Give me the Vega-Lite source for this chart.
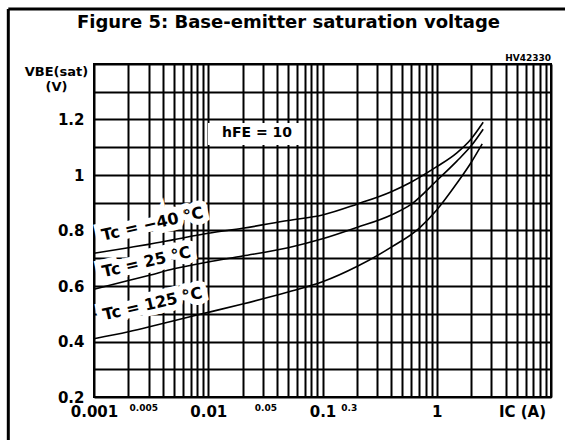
{
  "$schema": "https://vega.github.io/schema/vega-lite/v6.json",
  "width": 457,
  "height": 333,
  "autosize": {"type": "none"},
  "padding": {"left": 94, "top": 64, "right": 14, "bottom": 43},
  "background": "white",
  "title": {
    "text": "Figure 5: Base-emitter saturation voltage",
    "font": "DejaVu Sans",
    "fontSize": 18,
    "fontWeight": "bold",
    "color": "black",
    "anchor": "middle",
    "frame": "group",
    "offset": -38,
    "baseline": "alphabetic",
    "dx": -34
  },
  "config": {
    "view": {"stroke": "black", "strokeWidth": 2},
    "font": "DejaVu Sans"
  },
  "resolve": {"axis": {"x": "independent", "y": "independent"}},
  "datasets": {
    "curves": [
      {"Ic": 0.001, "V": 0.718, "Tc": "-40"},
      {"Ic": 0.002, "V": 0.738, "Tc": "-40"},
      {"Ic": 0.003, "V": 0.75, "Tc": "-40"},
      {"Ic": 0.005, "V": 0.767, "Tc": "-40"},
      {"Ic": 0.01, "V": 0.79, "Tc": "-40"},
      {"Ic": 0.02, "V": 0.808, "Tc": "-40"},
      {"Ic": 0.05, "V": 0.836, "Tc": "-40"},
      {"Ic": 0.1, "V": 0.856, "Tc": "-40"},
      {"Ic": 0.2, "V": 0.895, "Tc": "-40"},
      {"Ic": 0.4, "V": 0.94, "Tc": "-40"},
      {"Ic": 0.6, "V": 0.975, "Tc": "-40"},
      {"Ic": 1, "V": 1.03, "Tc": "-40"},
      {"Ic": 1.5, "V": 1.08, "Tc": "-40"},
      {"Ic": 2, "V": 1.13, "Tc": "-40"},
      {"Ic": 2.55, "V": 1.19, "Tc": "-40"},
      {"Ic": 0.001, "V": 0.588, "Tc": "25"},
      {"Ic": 0.002, "V": 0.62, "Tc": "25"},
      {"Ic": 0.003, "V": 0.638, "Tc": "25"},
      {"Ic": 0.005, "V": 0.662, "Tc": "25"},
      {"Ic": 0.01, "V": 0.687, "Tc": "25"},
      {"Ic": 0.02, "V": 0.708, "Tc": "25"},
      {"Ic": 0.05, "V": 0.738, "Tc": "25"},
      {"Ic": 0.1, "V": 0.77, "Tc": "25"},
      {"Ic": 0.2, "V": 0.811, "Tc": "25"},
      {"Ic": 0.4, "V": 0.856, "Tc": "25"},
      {"Ic": 0.6, "V": 0.895, "Tc": "25"},
      {"Ic": 1, "V": 0.98, "Tc": "25"},
      {"Ic": 1.5, "V": 1.05, "Tc": "25"},
      {"Ic": 2, "V": 1.105, "Tc": "25"},
      {"Ic": 2.55, "V": 1.165, "Tc": "25"},
      {"Ic": 0.001, "V": 0.41, "Tc": "125"},
      {"Ic": 0.002, "V": 0.435, "Tc": "125"},
      {"Ic": 0.003, "V": 0.452, "Tc": "125"},
      {"Ic": 0.005, "V": 0.475, "Tc": "125"},
      {"Ic": 0.01, "V": 0.505, "Tc": "125"},
      {"Ic": 0.02, "V": 0.535, "Tc": "125"},
      {"Ic": 0.05, "V": 0.578, "Tc": "125"},
      {"Ic": 0.1, "V": 0.615, "Tc": "125"},
      {"Ic": 0.2, "V": 0.67, "Tc": "125"},
      {"Ic": 0.4, "V": 0.74, "Tc": "125"},
      {"Ic": 0.7, "V": 0.808, "Tc": "125"},
      {"Ic": 1, "V": 0.874, "Tc": "125"},
      {"Ic": 1.5, "V": 0.97, "Tc": "125"},
      {"Ic": 2, "V": 1.045, "Tc": "125"},
      {"Ic": 2.5, "V": 1.112, "Tc": "125"}
    ],
    "tclabels": [
      {"x": 0.00325, "y": 0.823, "text": "Tc = −40 °C"},
      {"x": 0.00288, "y": 0.686, "text": "Tc = 25 °C"},
      {"x": 0.00325, "y": 0.535, "text": "Tc = 125 °C"}
    ],
    "frame": [
      {"x1": 0.0001778, "x2": 14.66, "y1": 1.598, "y2": 1.598},
      {"x1": 0.0001778, "x2": 0.0001778, "y1": 1.598, "y2": 0.027}
    ]
  },
  "layer": [
    {
      "data": {"name": "tclabels"},
      "mark": {"type": "text", "font": "DejaVu Sans", "fontWeight": "bold", "fontSize": 16, "color": "white", "stroke": "white", "strokeWidth": 12, "angle": 347, "align": "center", "baseline": "middle"},
      "encoding": {
        "x": {
          "field": "x",
          "type": "quantitative",
          "scale": {"type": "log", "domain": [0.001, 10], "nice": false},
          "axis": {
            "orient": "bottom",
            "values": [0.001, 0.002, 0.003, 0.004, 0.005, 0.006, 0.007, 0.008, 0.009, 0.01, 0.02, 0.03, 0.04, 0.05, 0.06, 0.07, 0.08, 0.09, 0.1, 0.2, 0.3, 0.4, 0.5, 0.6, 0.7, 0.8, 0.9, 1, 2, 3, 4, 5, 6, 7, 8, 9, 10],
            "grid": true,
            "gridColor": "black",
            "gridWidth": 2,
            "gridOpacity": 1,
            "domain": false,
            "ticks": false,
            "labelExpr": "indexof([0.001, 0.01, 0.1, 1], datum.value) >= 0 ? format(datum.value, '~g') : ''",
            "labelFont": "DejaVu Sans",
            "labelFontWeight": "bold",
            "labelColor": "black",
            "labelFontSize": 15,
            "labelPadding": 7,
            "labelOverlap": false,
            "labelFlush": false,
            "labelBound": false,
            "title": "IC (A)",
            "titleX": 428,
            "titleY": 7,
            "titleBaseline": "top",
            "titleAlign": "center",
            "titleFont": "DejaVu Sans",
            "titleFontSize": 15,
            "titleFontWeight": "bold",
            "titleColor": "black"
          }
        },
        "y": {
          "field": "y",
          "type": "quantitative",
          "scale": {"domain": [0.2, 1.4], "nice": false, "zero": false},
          "axis": {
            "orient": "left",
            "values": [0.2, 0.3, 0.4, 0.5, 0.6, 0.7, 0.8, 0.9, 1, 1.1, 1.2, 1.3, 1.4],
            "grid": true,
            "gridColor": "black",
            "gridWidth": 2,
            "gridOpacity": 1,
            "domain": false,
            "ticks": false,
            "labelExpr": "indexof([0.2, 0.4, 0.6, 0.8, 1, 1.2], datum.value) >= 0 ? format(datum.value, '~g') : ''",
            "labelFont": "DejaVu Sans",
            "labelFontWeight": "bold",
            "labelFontSize": 15,
            "labelColor": "black",
            "labelPadding": 10,
            "labelOverlap": false,
            "labelFlush": false,
            "labelBound": false,
            "title": ["VBE(sat)", "(V)"],
            "titleAngle": 0,
            "titleX": -38,
            "titleY": 1,
            "titleAlign": "center",
            "titleBaseline": "top",
            "titleFont": "DejaVu Sans",
            "titleFontSize": 13,
            "titleFontWeight": "bold",
            "titleLineHeight": 15,
            "titleColor": "black"
          }
        },
        "text": {"field": "text"}
      }
    },
    {
      "data": {"name": "curves"},
      "mark": {"type": "line", "color": "black", "strokeWidth": 1.6, "interpolate": "monotone"},
      "encoding": {
        "x": {"field": "Ic", "type": "quantitative", "axis": null},
        "y": {"field": "V", "type": "quantitative", "axis": null},
        "detail": {"field": "Tc", "type": "nominal"}
      }
    },
    {
      "data": {"name": "frame"},
      "mark": {"type": "rule", "color": "black", "strokeWidth": 3, "clip": false},
      "encoding": {
        "x": {"field": "x1", "type": "quantitative", "axis": null},
        "x2": {"field": "x2"},
        "y": {"field": "y1", "type": "quantitative", "axis": null},
        "y2": {"field": "y2"}
      }
    },
    {
      "data": {"values": [{"x1": 0.00995, "x2": 0.0675, "y1": 1.108, "y2": 1.187}]},
      "mark": {"type": "rect", "color": "white"},
      "encoding": {
        "x": {"field": "x1", "type": "quantitative", "axis": null},
        "x2": {"field": "x2"},
        "y": {"field": "y1", "type": "quantitative", "axis": null},
        "y2": {"field": "y2"}
      }
    },
    {
      "data": {"values": [{"x": 0.0267, "y": 1.151, "text": "hFE = 10"}]},
      "mark": {"type": "text", "font": "DejaVu Sans", "fontWeight": "bold", "fontSize": 14, "color": "black", "align": "center", "baseline": "middle"},
      "encoding": {
        "x": {"field": "x", "type": "quantitative", "axis": null},
        "y": {"field": "y", "type": "quantitative", "axis": null},
        "text": {"field": "text"}
      }
    },
    {
      "data": {"name": "tclabels"},
      "mark": {"type": "text", "font": "DejaVu Sans", "fontWeight": "bold", "fontSize": 16, "color": "black", "angle": 347, "align": "center", "baseline": "middle"},
      "encoding": {
        "x": {
          "field": "x",
          "type": "quantitative",
          "axis": {
            "orient": "bottom",
            "values": [0.0027, 0.0316, 0.17],
            "labelExpr": "datum.value < 0.005 ? '0.005' : (datum.value < 0.05 ? '0.05' : '0.3')",
            "grid": false,
            "domain": false,
            "ticks": false,
            "title": null,
            "labelFont": "DejaVu Sans",
            "labelFontWeight": "bold",
            "labelFontSize": 9,
            "labelColor": "black",
            "labelPadding": 6,
            "labelOverlap": false,
            "labelFlush": false,
            "labelBound": false
          }
        },
        "y": {"field": "y", "type": "quantitative", "axis": null},
        "text": {"field": "text"}
      }
    },
    {
      "data": {"values": [{"x": 10, "y": 1.42, "text": "HV42330"}]},
      "mark": {"type": "text", "font": "DejaVu Sans", "fontWeight": "bold", "fontSize": 9, "color": "black", "align": "right", "baseline": "middle", "clip": false},
      "encoding": {
        "x": {"field": "x", "type": "quantitative", "axis": null},
        "y": {"field": "y", "type": "quantitative", "axis": null},
        "text": {"field": "text"}
      }
    }
  ]
}
